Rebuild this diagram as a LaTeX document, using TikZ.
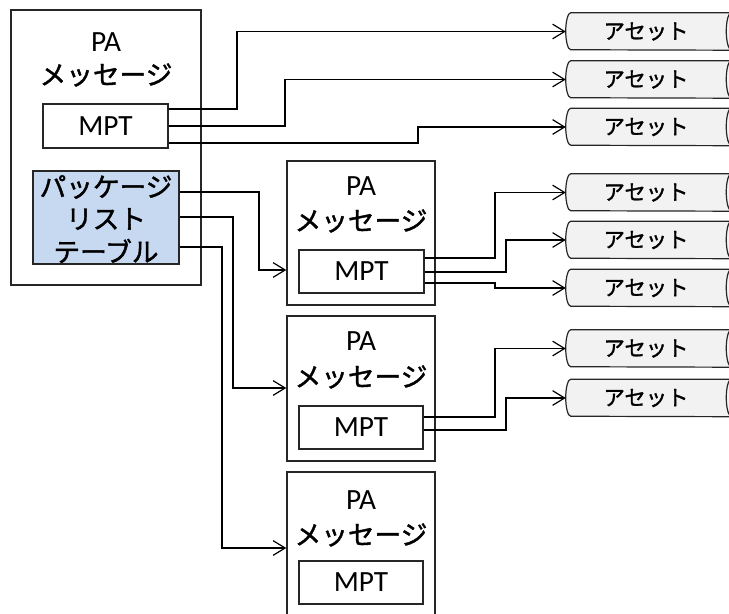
\documentclass[tikz,border=0pt]{standalone}
\usepackage{fontspec}
\setmainfont{Carlito}
\newfontfamily\jp[FakeBold=1.5]{Noto Sans CJK JP}
\usetikzlibrary{arrows.meta,fit,backgrounds}
\definecolor{plblue}{HTML}{C6D9F1}
\definecolor{assetgray}{HTML}{F2F2F2}
\definecolor{edgegray}{HTML}{262626}
\begin{document}
\begin{tikzpicture}[x=0.75pt,y=-0.75pt,
  frame/.style={draw=edgegray,line width=1.1pt,inner sep=0pt,fill=white},
  plbox/.style={frame,fill=plblue},
  lbl/.style={inner sep=0pt,font=\fontsize{22pt}{26pt}\selectfont},
  jlbl/.style={inner sep=0pt,font=\jp\fontsize{20pt}{24pt}\selectfont},
  assetnode/.style={inner sep=0pt,minimum width=120pt,minimum height=27.75pt,font=\jp\fontsize{16pt}{19pt}\selectfont},
  assetshape/.style={draw=edgegray,fill=assetgray,line width=0.9pt},
  wire/.style={draw=black,line width=0.9pt},
  link/.style={wire,-{Straight Barb[length=9pt,width=11pt,line width=0.9pt]}}
]
\useasboundingbox (0,0) rectangle (729,614);
\clip (0,0) rectangle (729,614);

% left PA message
\node[frame,fit={(11,10)(201,285)}] (pa0) {};
\node[lbl] (pa0t) at (106,42) {PA};
\node[jlbl] (pa0j) at (106,75) {メッセージ};
\node[frame,fit={(43,104)(168,148)}] (mpt0) {};
\node[lbl] (mpt0t) at (105.5,126) {MPT};
\node[plbox,fit={(33,171)(179,264)}] (pl) {};
\node[jlbl] (pl1) at (106,187) {パッケージ};
\node[jlbl] (pl2) at (106,219) {リスト};
\node[jlbl] (pl3) at (106,251) {テーブル};

% PA message 1
\node[frame,fit={(287,161)(435,305)}] (pa1) {};
\node[lbl] (pa1t) at (361,186) {PA};
\node[jlbl] (pa1j) at (361,221) {メッセージ};
\node[frame,fit={(299,250)(424,293)}] (mpt1) {};
\node[lbl] (mpt1t) at (361.5,271.5) {MPT};

% PA message 2
\node[frame,fit={(287,316)(435,461)}] (pa2) {};
\node[lbl] (pa2t) at (361,341) {PA};
\node[jlbl] (pa2j) at (361,377) {メッセージ};
\node[frame,fit={(299,406)(423,449)}] (mpt2) {};
\node[lbl] (mpt2t) at (361,427.5) {MPT};

% PA message 3
\node[frame,fit={(287,472)(435,620)}] (pa3) {};
\node[lbl] (pa3t) at (361,500) {PA};
\node[jlbl] (pa3j) at (361,535) {メッセージ};
\node[frame,fit={(299,561)(423,604)}] (mpt3) {};
\node[lbl] (mpt3t) at (361,582.5) {MPT};

% assets
\node[assetnode] (a1) at (646,31.5) {アセット};
\node[assetnode] (a2) at (646,79.5) {アセット};
\node[assetnode] (a3) at (646,127) {アセット};
\node[assetnode] (a4) at (646,192.5) {アセット};
\node[assetnode] (a5) at (646,240) {アセット};
\node[assetnode] (a6) at (646,288) {アセット};
\node[assetnode] (a7) at (646,348.5) {アセット};
\node[assetnode] (a8) at (646,398) {アセット};

\begin{scope}[on background layer]
  \clip (0,0) rectangle (729,614);
  \foreach \a in {a1,a2,a3,a4,a5,a6,a7,a8}{
    \filldraw[assetshape] ([xshift=3.75pt]\a.north west)
      arc[start angle=90,end angle=270,x radius=3.75pt,y radius=13.875pt]
      -- ([xshift=20pt]\a.south east) -- ([xshift=20pt]\a.north east) -- cycle;
    \draw[assetshape,fill=none] ([xshift=3.75pt]\a.north east)
      arc[start angle=90,end angle=270,x radius=3.75pt,y radius=13.875pt];
  }
\end{scope}

% connectors from left MPT
\draw[link] (mpt0.east |- 0,109) -| (237,0 |- a1.west) -- (a1.west);
\draw[link] (mpt0.east |- 0,126) -| (285,0 |- a2.west) -- (a2.west);
\draw[link] (mpt0.east |- 0,143) -| (418,0 |- a3.west) -- (a3.west);

% connectors from package list table
\draw[link] (pl.east |- 0,192) -| (259,270) -- (pa1.west |- 0,270);
\draw[link] (pl.east |- 0,217) -| (233,388) -- (pa2.west |- 0,388);
\draw[link] (pl.east |- 0,247) -| (222,548) -- (pa3.west |- 0,548);

% connectors from MPT 1
\draw[link] (mpt1.east |- 0,258) -| (495,0 |- a4.west) -- (a4.west);
\draw[link] (mpt1.east |- 0,272) -| (506,0 |- a5.west) -- (a5.west);
\draw[link] (mpt1.east |- 0,283) -| (495,0 |- a6.west) -- (a6.west);

% connectors from MPT 2
\draw[link] (mpt2.east |- 0,417) -| (495,0 |- a7.west) -- (a7.west);
\draw[link] (mpt2.east |- 0,430) -| (506,0 |- a8.west) -- (a8.west);
\end{tikzpicture}
\end{document}
